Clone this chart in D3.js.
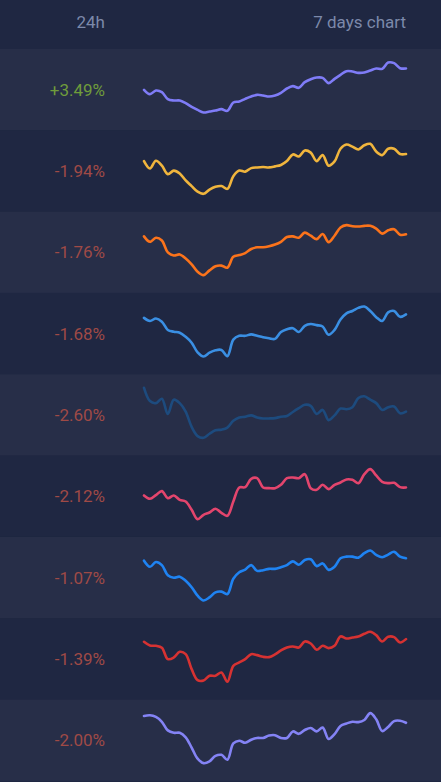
<!DOCTYPE html>
<html>
<head>
  <meta charset="utf-8" />
  <title>7 days chart</title>
  <script type="text/javascript" src="https://cdn.jsdelivr.net/npm/d3@7"></script>
  <style type="text/css">
  html, body {
    margin: 0;
    padding: 0;
    background: #1f2742;
    font-family: Roboto, "Noto Sans", sans-serif;
  }

  .head {
    fill: #7c89aa;
    font-size: 17px;
  }

  .pct {
    font-size: 17px;
  }

  .spark {
    fill: none;
    stroke-width: 2.6px;
    stroke-linejoin: round;
    stroke-linecap: round;
  }
  </style>
</head>
<body>
  <script type="text/javascript">
    // 24h change per row
    var changes = [3.49, -1.94, -1.76, -1.68, -2.60, -2.12, -1.07, -1.39, -2.00]

    var colors = ['#7f7cf7', '#f0b53d', '#fb731b', '#3a8fe3', '#1d4b7e',
                  '#e3456d', '#1f83f2', '#d63232', '#8483f5']

    // 7 day series (relative price index, 45 samples each)
    var s1 = [230, 217, 228, 223, 202, 198, 198, 190, 179, 170, 162, 165, 168, 172, 167,
              192, 195, 203, 210, 215, 213, 210, 213, 221, 234, 241, 236, 253, 262, 267,
              266, 250, 263, 275, 286, 285, 281, 282, 288, 294, 293, 312, 310, 295, 294]
    var s2 = [405, 384, 406, 392, 368, 378, 370, 350, 334, 318, 312, 324, 332, 334, 326,
              362, 378, 375, 385, 387, 388, 387, 390, 394, 405, 424, 418, 435, 429, 405,
              422, 392, 404, 440, 452, 446, 438, 450, 454, 432, 422, 440, 440, 425, 425]
    var s3 = [182, 166, 178, 170, 135, 126, 129, 117, 100, 78, 68, 82, 94, 96, 90,
              122, 127, 133, 145, 150, 150, 153, 158, 166, 180, 182, 178, 193, 184, 174,
              189, 165, 184, 208, 215, 212, 211, 213, 213, 205, 190, 200, 203, 187, 188]
    var s4 = [415, 406, 413, 404, 380, 375, 372, 360, 343, 315, 303, 314, 321, 322, 304,
              352, 363, 363, 367, 363, 359, 356, 354, 374, 382, 385, 374, 392, 397, 394,
              390, 366, 380, 410, 428, 435, 444, 448, 435, 417, 406, 431, 435, 418, 425]
    var s5 = [205, 166, 160, 173, 128, 170, 160, 135, 90, 63, 58, 70, 80, 82, 88,
              108, 118, 120, 124, 118, 115, 115, 116, 120, 122, 134, 145, 155, 152, 128,
              140, 110, 124, 144, 142, 148, 175, 180, 170, 160, 140, 148, 150, 130, 135]
    var s6 = [368, 358, 369, 381, 360, 368, 355, 350, 325, 297, 310, 317, 328, 316, 307,
              350, 392, 393, 418, 420, 392, 390, 390, 400, 420, 422, 420, 432, 390, 385,
              400, 387, 400, 407, 416, 415, 405, 432, 447, 428, 409, 405, 406, 393, 392]
    var s7 = [168, 150, 164, 155, 125, 118, 121, 109, 90, 65, 51, 60, 75, 77, 70,
              115, 134, 142, 155, 138, 140, 144, 144, 149, 155, 166, 156, 170, 172, 152,
              160, 141, 150, 175, 180, 180, 177, 190, 198, 185, 178, 186, 194, 180, 175]
    var s8 = [412, 401, 400, 394, 360, 365, 382, 375, 330, 297, 296, 310, 310, 320, 292,
              340, 350, 360, 375, 372, 367, 366, 374, 386, 395, 398, 395, 413, 407, 388,
              400, 393, 400, 428, 422, 425, 428, 436, 442, 432, 413, 427, 426, 410, 420]
    var s9 = [182, 184, 179, 165, 140, 133, 133, 120, 90, 58, 45, 50, 66, 69, 55,
              102, 110, 104, 113, 118, 118, 125, 126, 118, 118, 137, 130, 141, 147, 137,
              148, 115, 129, 153, 160, 165, 164, 170, 190, 172, 138, 150, 167, 168, 162]

    var series = [s1, s2, s3, s4, s5, s6, s7, s8, s9]

    var W = 441,
        H = 782,
        headH = 49,
        rowH = 81.33,
        chartLeft = 144,
        chartRight = 406

    var svg = d3.select(document.body)
      .append('svg')
      .attr('width', W)
      .attr('height', H)
      .style('display', 'block')

    svg.append('text')
      .attr('class', 'head')
      .attr('x', 105)
      .attr('y', 28)
      .attr('text-anchor', 'end')
      .text('24h')

    svg.append('text')
      .attr('class', 'head')
      .attr('x', chartRight)
      .attr('y', 28)
      .attr('text-anchor', 'end')
      .text('7 days chart')

    var x = d3.scaleLinear().domain([0, s1.length - 1]).range([chartLeft, chartRight])

    var rows = svg.selectAll('g.row')
      .data(series)
    .enter().append('g')
      .attr('class', 'row')
      .attr('transform', function(d, i) { return 'translate(0,' + (headH + i * rowH) + ')' })

    rows.append('rect')
      .attr('x', 0)
      .attr('y', 0)
      .attr('width', W)
      .attr('height', rowH)
      .attr('fill', function(d, i) { return i % 2 === 0 ? '#272e48' : '#1f2742' })

    rows.append('text')
      .attr('class', 'pct')
      .attr('x', 105)
      .attr('y', rowH / 2 + 6)
      .attr('text-anchor', 'end')
      .attr('fill', function(d, i) { return changes[i] >= 0 ? '#6f9c3b' : '#9f4a46' })
      .text(function(d, i) {
        var c = changes[i]
        return (c >= 0 ? '+' : '') + c.toFixed(2) + '%'
      })

    rows.append('path')
      .attr('class', 'spark')
      .attr('stroke', function(d, i) { return colors[i] })
      .attr('d', function(d) {
        var y = d3.scaleLinear().domain(d3.extent(d)).range([63.5, 13.5])
        return d3.line()
          .x(function(v, j) { return x(j) })
          .y(function(v) { return y(v) })
          .curve(d3.curveCatmullRom)(d)
      })

  </script>
</body>
</html>
